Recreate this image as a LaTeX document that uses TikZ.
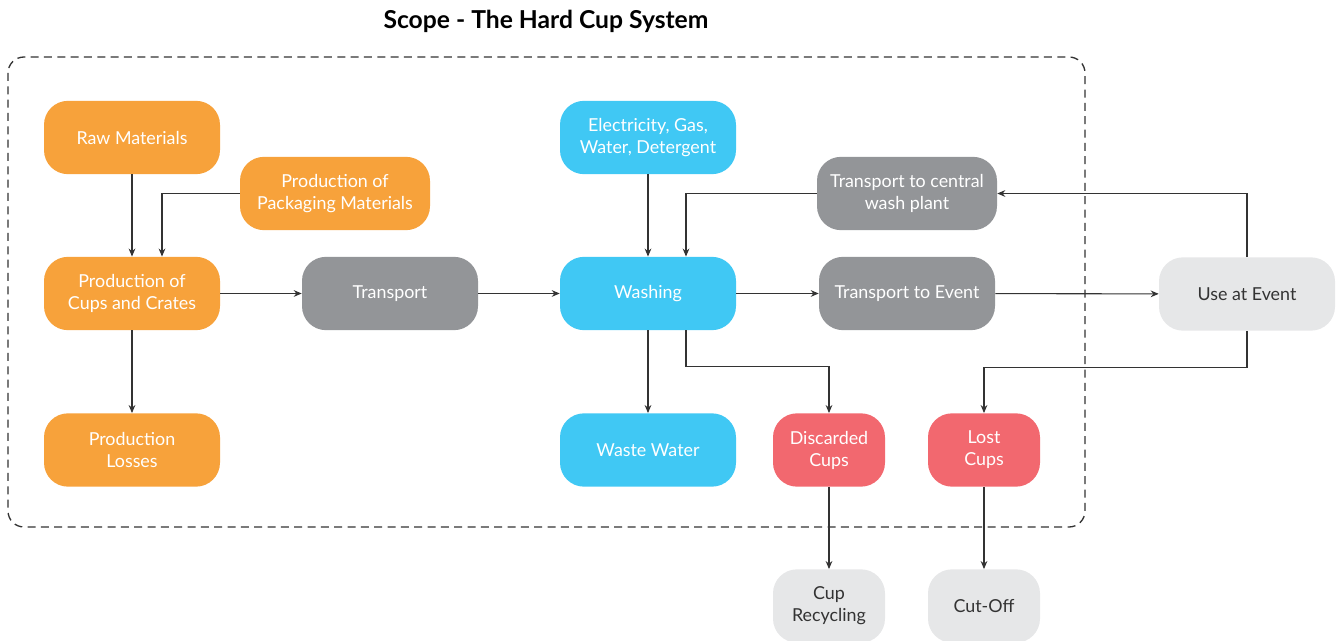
\documentclass[tikz,border=0pt]{standalone}
\usepackage{fontspec}
\setmainfont{Lato}
\usetikzlibrary{arrows.meta}
\definecolor{cuporange}{HTML}{F7A23B}
\definecolor{cupblue}{HTML}{40C8F4}
\definecolor{cupgray}{HTML}{939598}
\definecolor{cupred}{HTML}{F2686F}
\definecolor{cuplight}{HTML}{E6E7E8}
\definecolor{cupline}{HTML}{333333}
\tikzset{
  box/.style={rounded corners=18pt, align=center, minimum width=132pt,
    minimum height=55pt, text=white, inner sep=2pt,
    font=\fontsize{13.4}{16.5}\selectfont},
  smallbox/.style={box, minimum width=84pt},
  orangebox/.style={box, fill=cuporange},
  bluebox/.style={box, fill=cupblue},
  graybox/.style={box, fill=cupgray},
  redbox/.style={smallbox, fill=cupred},
  endbox/.style={smallbox, fill=cuplight, text=cupline},
  flow/.style={draw=cupline, line width=0.8pt, -{Stealth[length=6pt,width=5pt]}}
}

\begin{document}
\begin{tikzpicture}[x=0.75pt,y=-0.75pt]
\useasboundingbox (0,0) rectangle (1340,641);
% Scope frame and title
\node[font=\fontsize{18.5}{22}\selectfont\bfseries] (title) at (546,21) {Scope - The Hard Cup System};
\draw[line width=1pt, dash pattern=on 6pt off 4pt, rounded corners=12pt, cupline] (8,57) rectangle (1085,527);

% Production side
\node[orangebox] (raw) at (132,137.5) {Raw Materials};
\node[orangebox, minimum width=142.5pt] (pack) at (335,193.5) {Production of\\Packaging Materials};
\node[orangebox] (prod) at (132,293.5) {Production of\\Cups and Crates};
\node[orangebox] (loss) at (132,450) {Production\\Losses};
\node[graybox] (trans) at (390,293.5) {Transport};

% Washing
\node[bluebox] (energy) at (648,137.5) {Electricity, Gas,\\Water, Detergent};
\node[bluebox] (wash) at (648,293.5) {Washing};
\node[bluebox] (waste) at (648,450) {Waste Water};
\node[graybox, minimum width=135pt] (central) at (907,193.5) {Transport to central\\wash plant};
\node[graybox] (toevent) at (907,293.5) {Transport to Event};
\node[box, fill=cuplight, text=cupline] (use) at (1247,294) {Use at Event};

% Losses and end of life
\node[redbox] (disc) at (829,450) {Discarded\\Cups};
\node[redbox] (lost) at (984,450) {Lost\\Cups};
\node[endbox] (recyc) at (829,606) {Cup\\Recycling};
\node[endbox] (cutoff) at (984,606) {Cut-Off};

% Connectors
\draw[flow] (raw) -- (prod);
\draw[flow] (pack.west) -| ([xshift=22.5pt]prod.north);
\draw[flow] (prod) -- (loss);
\draw[flow] (prod) -- (trans);
\draw[flow] (trans) -- (wash);
\draw[flow] (energy) -- (wash);
\draw[flow] (central.west) -| ([xshift=28.5pt]wash.north);
\draw[flow] (wash) -- (toevent);
\draw[flow] (toevent) -- (use);
\draw[flow] (wash) -- (waste);
\draw[flow] ([xshift=28.5pt]wash.south) -- ++(0,36) -| (disc.north);
\draw[flow] (use.north) |- (central.east);
\draw[flow] (use.south) -- ++(0,37) -| (lost.north);
\draw[flow] (disc) -- (recyc);
\draw[flow] (lost) -- (cutoff);
\end{tikzpicture}
\end{document}
